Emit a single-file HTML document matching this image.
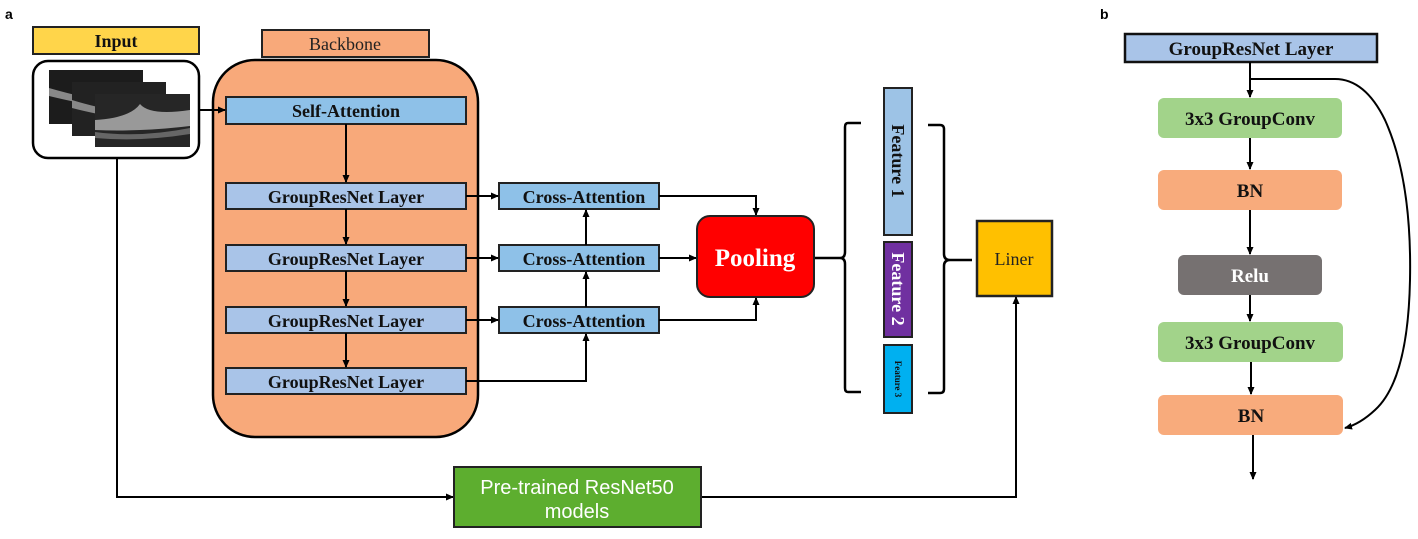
<!DOCTYPE html>
<html><head><meta charset="utf-8"><style>
html,body{margin:0;padding:0;background:#fff;}
svg{display:block;}
.t{font-family:"Liberation Serif",serif;font-weight:bold;fill:#111;}
</style></head><body>
<svg width="1418" height="539" viewBox="0 0 1418 539" xmlns="http://www.w3.org/2000/svg">
<defs>
<marker id="a" markerWidth="8" markerHeight="8" refX="7" refY="4" orient="auto" markerUnits="userSpaceOnUse">
<path d="M0,0.5 L8,4 L0,7.5 Z" fill="#000"/></marker>
</defs>
<text x="5" y="19" font-family="Liberation Sans,sans-serif" font-weight="bold" font-size="14">a</text>
<text x="1100" y="19" font-family="Liberation Sans,sans-serif" font-weight="bold" font-size="14">b</text>

<!-- Input -->
<rect x="33" y="27" width="166" height="27" fill="#FFD54A" stroke="#222" stroke-width="2"/>
<text x="116" y="47" class="t" font-size="18" text-anchor="middle">Input</text>
<rect x="33" y="61" width="166" height="97" rx="15" fill="#fff" stroke="#000" stroke-width="2.5"/>
<rect x="49" y="70" width="94" height="54" fill="#1c1c1c"/>
<path d="M49,88 Q90,100 143,108 L143,114 Q90,106 49,96Z" fill="#888"/>
<rect x="72" y="82" width="94" height="54" fill="#222"/>
<path d="M72,100 Q110,112 166,118 L166,124 Q110,118 72,108Z" fill="#888"/>
<rect x="95" y="94" width="95" height="53" fill="#262626"/>
<path d="M95,120 Q130,118 140,104 Q150,116 190,110 L190,126 Q140,132 95,130Z" fill="#999"/>
<path d="M95,132 Q140,138 190,128 L190,134 Q140,142 95,138Z" fill="#666"/>

<!-- Backbone -->
<rect x="262" y="30" width="167" height="27" fill="#F8A97A" stroke="#222" stroke-width="2"/>
<text x="345" y="50" font-family="Liberation Serif,serif" font-size="18" text-anchor="middle" fill="#222">Backbone</text>
<rect x="213" y="60" width="265" height="377" rx="42" fill="#F8A97A" stroke="#000" stroke-width="2.5"/>

<g stroke="#222" stroke-width="2">
<rect x="226" y="97" width="240" height="27" fill="#8EC1E8"/>
<rect x="226" y="183" width="240" height="26" fill="#A9C4E8"/>
<rect x="226" y="245" width="240" height="26" fill="#A9C4E8"/>
<rect x="226" y="307" width="240" height="26" fill="#A9C4E8"/>
<rect x="226" y="368" width="240" height="26" fill="#A9C4E8"/>
<rect x="499" y="183" width="160" height="26" fill="#8EC1E8"/>
<rect x="499" y="245" width="160" height="26" fill="#8EC1E8"/>
<rect x="499" y="307" width="160" height="26" fill="#8EC1E8"/>
</g>
<g class="t" font-size="18" text-anchor="middle">
<text x="346" y="117">Self-Attention</text>
<text x="346" y="203">GroupResNet Layer</text>
<text x="346" y="265">GroupResNet Layer</text>
<text x="346" y="327">GroupResNet Layer</text>
<text x="346" y="388">GroupResNet Layer</text>
<text x="584" y="203">Cross-Attention</text>
<text x="584" y="265">Cross-Attention</text>
<text x="584" y="327">Cross-Attention</text>
</g>

<g stroke="#000" stroke-width="2" fill="none" marker-end="url(#a)">
<line x1="199" y1="110" x2="225" y2="110"/>
<line x1="346" y1="124" x2="346" y2="182"/>
<line x1="346" y1="209" x2="346" y2="244"/>
<line x1="346" y1="271" x2="346" y2="306"/>
<line x1="346" y1="333" x2="346" y2="367"/>
<line x1="466" y1="196" x2="498" y2="196"/>
<line x1="466" y1="258" x2="498" y2="258"/>
<line x1="466" y1="320" x2="498" y2="320"/>
<polyline points="466,381 586,381 586,334"/>
<line x1="586" y1="307" x2="586" y2="272"/>
<line x1="586" y1="245" x2="586" y2="210"/>
<polyline points="659,196 756,196 756,215"/>
<line x1="659" y1="258" x2="696" y2="258"/>
<polyline points="659,320 756,320 756,298"/>
<polyline points="117,158 117,497 453,497"/>
<polyline points="701,497 1016,497 1016,297"/>
</g>

<!-- Pooling -->
<rect x="697" y="216" width="117" height="81" rx="13" fill="#FF0000" stroke="#222" stroke-width="2"/>
<text x="755" y="266" font-family="Liberation Serif,serif" font-weight="bold" font-size="25" fill="#fff" text-anchor="middle">Pooling</text>

<!-- brackets -->
<g stroke="#000" stroke-width="2.5" fill="none">
<line x1="815" y1="258" x2="840" y2="258"/>
<path d="M861,123 L848,123 Q845,123 845,127 L845,252 Q845,258 840,258 Q845,258 845,264 L845,388 Q845,392 848,392 L861,392"/>
<path d="M928,125 L940,125 Q944,125 944,129 L944,254 Q944,260 950,260 Q944,260 944,266 L944,389 Q944,393 940,393 L928,393"/>
<line x1="950" y1="260" x2="972" y2="260"/>
</g>

<!-- features -->
<g stroke="#222" stroke-width="2">
<rect x="884" y="88" width="28" height="147" fill="#9DC3E6"/>
<rect x="884" y="242" width="28" height="95" fill="#7030A0"/>
<rect x="884" y="345" width="28" height="68" fill="#00B0F0"/>
</g>
<text class="t" font-size="18" transform="translate(892,161) rotate(90)" text-anchor="middle">Feature 1</text>
<text font-family="Liberation Serif,serif" font-weight="bold" font-size="18" fill="#fff" transform="translate(892,289) rotate(90)" text-anchor="middle">Feature 2</text>
<text class="t" font-size="9" transform="translate(895,379) rotate(90)" text-anchor="middle">Feature 3</text>

<!-- Liner -->
<rect x="977" y="221" width="75" height="75" fill="#FFC000" stroke="#222" stroke-width="2.5"/>
<text x="1014" y="265" font-family="Liberation Serif,serif" font-size="18" text-anchor="middle" fill="#222">Liner</text>

<!-- Pretrained -->
<rect x="454" y="467" width="247" height="60" fill="#5DAE2F" stroke="#222" stroke-width="2"/>
<text x="577" y="494" font-family="Liberation Sans,sans-serif" font-size="20" fill="#fff" text-anchor="middle">Pre-trained ResNet50</text>
<text x="577" y="518" font-family="Liberation Sans,sans-serif" font-size="20" fill="#fff" text-anchor="middle">models</text>

<!-- panel b -->
<rect x="1125" y="34" width="252" height="28" fill="#A9C4E8" stroke="#111" stroke-width="2.5"/>
<text x="1251" y="55" class="t" font-size="19" text-anchor="middle">GroupResNet Layer</text>
<rect x="1158" y="98" width="184" height="40" rx="6" fill="#A2D38A"/>
<rect x="1158" y="170" width="184" height="40" rx="6" fill="#F8AB7C"/>
<rect x="1178" y="255" width="144" height="40" rx="6" fill="#767171"/>
<rect x="1158" y="322" width="185" height="40" rx="6" fill="#A2D38A"/>
<rect x="1158" y="395" width="185" height="40" rx="6" fill="#F8AB7C"/>
<g class="t" font-size="19" text-anchor="middle">
<text x="1250" y="125">3x3 GroupConv</text>
<text x="1250" y="197">BN</text>
<text x="1250" y="349">3x3 GroupConv</text>
<text x="1251" y="422">BN</text>
</g>
<text x="1250" y="282" font-family="Liberation Serif,serif" font-weight="bold" font-size="19" fill="#fff" text-anchor="middle">Relu</text>
<g stroke="#000" stroke-width="2" fill="none" marker-end="url(#a)">
<line x1="1250" y1="62" x2="1250" y2="97"/>
<line x1="1250" y1="138" x2="1250" y2="169"/>
<line x1="1250" y1="210" x2="1250" y2="254"/>
<line x1="1250" y1="295" x2="1250" y2="321"/>
<line x1="1251" y1="362" x2="1251" y2="394"/>
<line x1="1253" y1="435" x2="1253" y2="479"/>
<path d="M1250,79 L1335,79 Q1365,79 1385,120 Q1412,180 1410,280 Q1408,380 1375,410 Q1360,424 1345,428"/>
</g>
</svg>
</body></html>
